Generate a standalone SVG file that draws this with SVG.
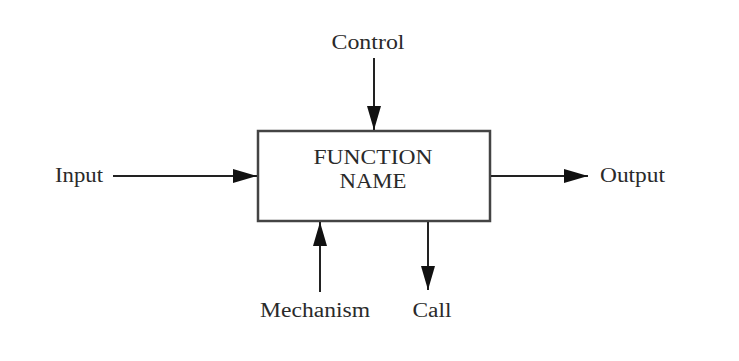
<svg xmlns="http://www.w3.org/2000/svg" width="739" height="361" viewBox="0 0 739 361">
<style>
text{font-family:"Liberation Serif","Times New Roman",serif;font-size:20px;fill:#2a2a2a}
.c{stroke:#222;stroke-width:2;fill:none}
</style>
<defs>
<marker id="ah" viewBox="0 0 24 14" refX="24" refY="7" markerWidth="24" markerHeight="14" markerUnits="userSpaceOnUse" orient="auto">
<path d="M0,0 L24,7 L0,14 Z" fill="#111"/>
</marker>
</defs>
<rect width="739" height="361" fill="#fff"/>
<g id="function">
<rect x="258" y="131" width="232" height="90" fill="#fff" stroke="#444" stroke-width="2.5"/>
<text x="373" y="164" text-anchor="middle" textLength="119" lengthAdjust="spacingAndGlyphs">FUNCTION</text>
<text x="373" y="188" text-anchor="middle" textLength="67" lengthAdjust="spacingAndGlyphs">NAME</text>
</g>
<g id="control"><text x="368" y="49" text-anchor="middle" textLength="73" lengthAdjust="spacingAndGlyphs">Control</text></g>
<g id="input"><text x="55" y="182" textLength="48" lengthAdjust="spacingAndGlyphs">Input</text></g>
<g id="output"><text x="600" y="182" textLength="65" lengthAdjust="spacingAndGlyphs">Output</text></g>
<g id="mechanism"><text x="315" y="317" text-anchor="middle" textLength="110" lengthAdjust="spacingAndGlyphs">Mechanism</text></g>
<g id="call"><text x="432" y="317" text-anchor="middle" textLength="39" lengthAdjust="spacingAndGlyphs">Call</text></g>
<g id="connectors">
<line class="c" x1="374" y1="58" x2="374" y2="130" marker-end="url(#ah)"/>
<line class="c" x1="113" y1="176" x2="257" y2="176" marker-end="url(#ah)"/>
<line class="c" x1="491" y1="176" x2="588" y2="176" marker-end="url(#ah)"/>
<line class="c" x1="320" y1="292" x2="320" y2="222" marker-end="url(#ah)"/>
<line class="c" x1="428" y1="222" x2="428" y2="290" marker-end="url(#ah)"/>
</g>
</svg>
